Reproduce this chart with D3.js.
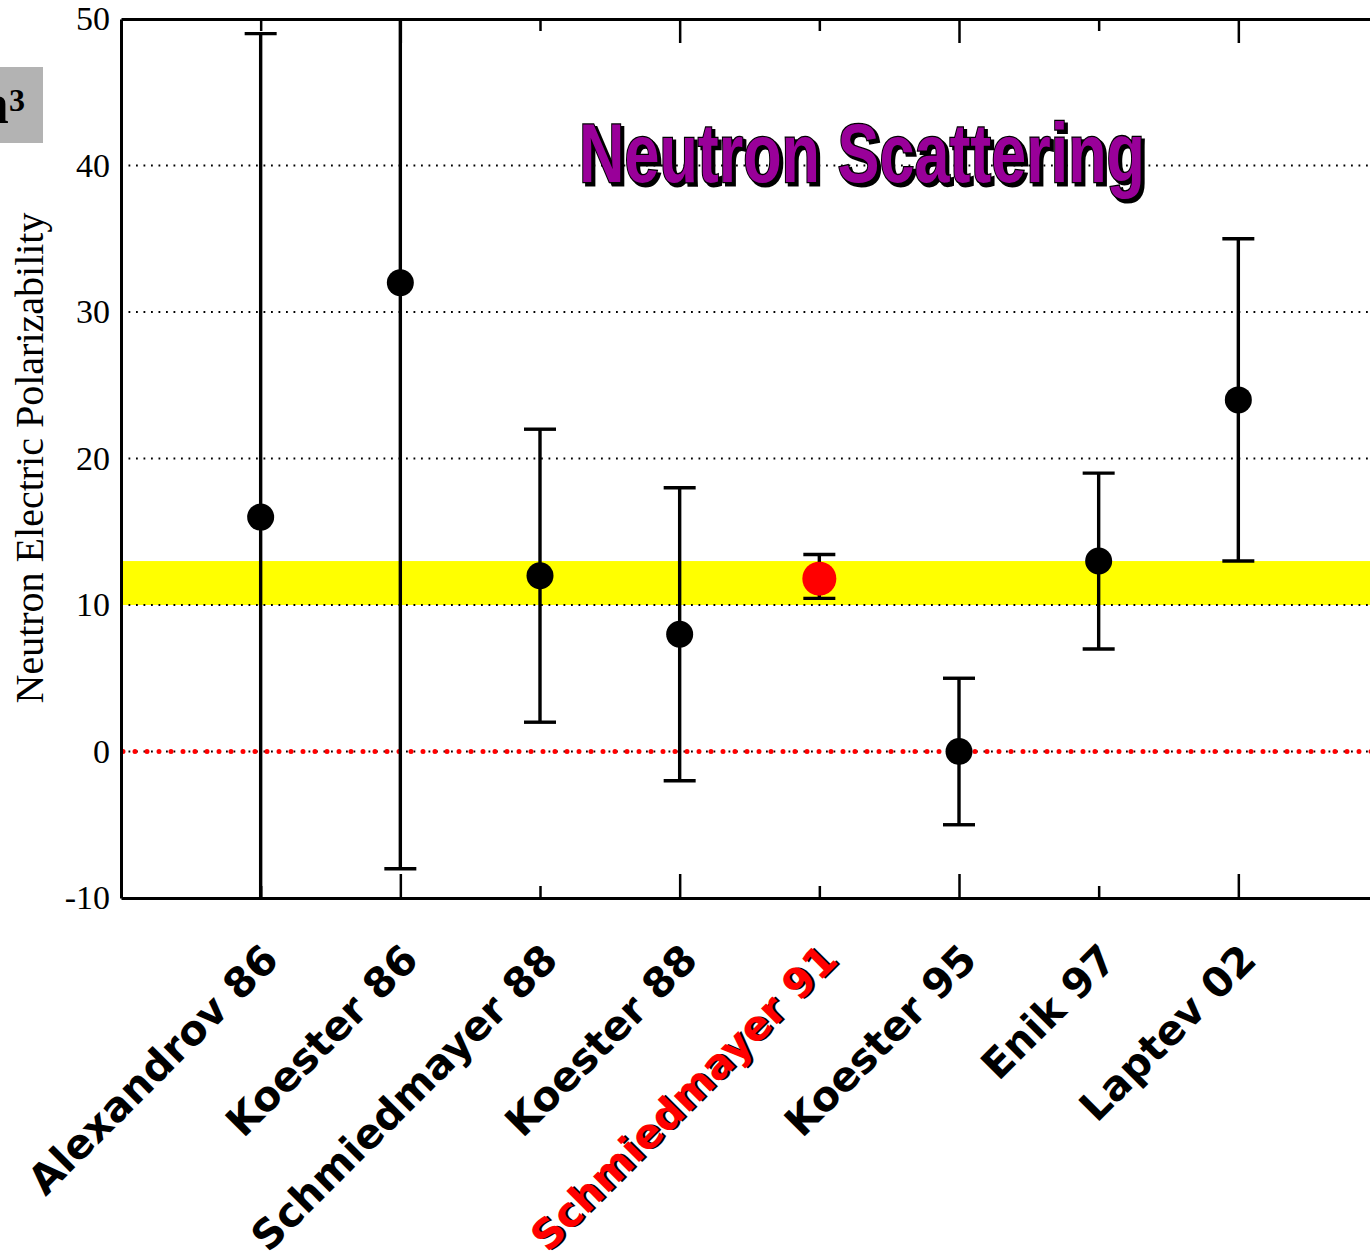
<!DOCTYPE html>
<html>
<head>
<meta charset="utf-8">
<script src="https://cdn.jsdelivr.net/npm/d3@7"></script>
<style>
  html, body { margin: 0; padding: 0; background: #fff; overflow: hidden; }
  .chart svg { display: block; }
</style>
</head>
<body>
<div class="chart"></div>
<script>
// NEUTRON POLARIZABILITY - ERROR BAR CHART
const labels = ['Alexandrov 86', 'Koester 86', 'Schmiedmayer 88', 'Koester 88',
  'Schmiedmayer 91', 'Koester 95', 'Enik 97', 'Laptev 02'];
const values = [16, 32, 12, 8, 11.8, 0, 13, 24];
const upper = [49, 72, 22, 18, 13.45, 5, 19, 35];
const lower = [-17, -8, 2, -2, 10.45, -5, 7, 13];
const highlight = 'Schmiedmayer 91';
const band = [10, 13];
const yTicks = [-10, 0, 10, 20, 30, 40, 50];
const gridValues = [0, 10, 20, 30, 40];

const data = labels.map((name, i) => ({
  name, i, value: values[i], hi: upper[i], lo: lower[i]
}));

const W = 1370, H = 1258;
const plot = { left: 121, top: 19, right: 1378, bottom: 898 };

const svg = d3.select('.chart')
  .append('svg')
    .attr('width', W)
    .attr('height', H);

const xScale = d3.scaleLinear()
  .domain([-1, labels.length])
  .range([plot.left, plot.right]);

const yScale = d3.scaleLinear()
  .domain([-10, 50])
  .range([plot.bottom, plot.top]);

svg.append('defs')
  .append('clipPath')
    .attr('id', 'plot-clip')
  .append('rect')
    .attr('x', plot.left)
    .attr('y', plot.top)
    .attr('width', plot.right - plot.left)
    .attr('height', plot.bottom - plot.top);

const inner = svg.append('g').attr('clip-path', 'url(#plot-clip)');

// yellow band
inner.append('rect')
  .attr('x', plot.left)
  .attr('y', yScale(band[1]))
  .attr('width', plot.right - plot.left)
  .attr('height', yScale(band[0]) - yScale(band[1]))
  .style('fill', '#ffff00');

// dotted grid
inner.selectAll('.grid')
  .data(gridValues)
  .enter()
  .append('line')
    .attr('class', 'grid')
    .attr('x1', plot.left)
    .attr('x2', plot.right)
    .attr('y1', d => yScale(d))
    .attr('y2', d => yScale(d))
    .style('stroke', '#000')
    .style('stroke-width', 1.8)
    .style('stroke-dasharray', '1.8 5.7');

// red zero line
inner.append('line')
  .attr('x1', plot.left + 2)
  .attr('x2', plot.right)
  .attr('y1', yScale(0))
  .attr('y2', yScale(0))
  .style('stroke', '#ff0000')
  .style('stroke-width', 5)
  .style('stroke-linecap', 'round')
  .style('stroke-dasharray', '0 12');

// error bars
const bars = inner.selectAll('.err')
  .data(data)
  .enter()
  .append('g')
    .attr('class', 'err');

bars.append('line')
  .attr('x1', d => xScale(d.i))
  .attr('x2', d => xScale(d.i))
  .attr('y1', d => yScale(d.hi))
  .attr('y2', d => yScale(d.lo))
  .style('stroke', '#000')
  .style('stroke-width', 3.4);

['hi', 'lo'].forEach(k => {
  bars.append('line')
    .attr('x1', d => xScale(d.i) - 16)
    .attr('x2', d => xScale(d.i) + 16)
    .attr('y1', d => yScale(d[k]))
    .attr('y2', d => yScale(d[k]))
    .style('stroke', '#000')
    .style('stroke-width', 3.4);
});

bars.append('circle')
  .attr('cx', d => xScale(d.i))
  .attr('cy', d => yScale(d.value))
  .attr('r', d => d.name === highlight ? 17 : 13.5)
  .style('fill', d => d.name === highlight ? '#ff0000' : '#000');

// axes
const idx = d3.range(labels.length);

const bottomAxis = svg.append('g')
  .attr('transform', `translate(0, ${plot.bottom})`)
  .call(d3.axisTop(xScale).tickValues(idx).tickFormat('').tickSize(24).tickSizeOuter(0));

const topAxis = svg.append('g')
  .attr('transform', `translate(0, ${plot.top})`)
  .call(d3.axisBottom(xScale).tickValues(idx).tickFormat('').tickSize(24).tickSizeOuter(0));

// minor ticks are shorter
bottomAxis.selectAll('.tick line').attr('y2', d => d % 2 === 0 ? -12 : -24);
topAxis.selectAll('.tick line').attr('y2', d => d % 2 === 0 ? 12 : 24);

const leftAxis = svg.append('g')
  .attr('transform', `translate(${plot.left}, 0)`)
  .call(d3.axisLeft(yScale)
    .tickValues(yTicks)
    .tickFormat(d => String(d))
    .tickSize(0)
    .tickPadding(11)
    .tickSizeOuter(0));

[bottomAxis, topAxis, leftAxis].forEach(ax => {
  ax.select('.domain').style('stroke', '#000').style('stroke-width', 3);
  ax.selectAll('.tick line').style('stroke', '#000').style('stroke-width', 2.5);
});

leftAxis.selectAll('.tick text')
  .style('font-family', '"Liberation Serif", "Times New Roman", serif')
  .style('font-size', '34px')
  .style('fill', '#000');

// y axis title
svg.append('text')
  .attr('transform', `translate(43, 458) rotate(-90)`)
  .attr('text-anchor', 'middle')
  .style('font-family', '"Liberation Serif", "Times New Roman", serif')
  .style('font-size', '40px')
  .text('Neutron Electric Polarizability');

// unit box (cut at the left edge)
svg.append('rect')
  .attr('x', 0)
  .attr('y', 67)
  .attr('width', 43)
  .attr('height', 76)
  .style('fill', '#b3b3b3');

svg.append('text')
  .attr('x', 9)
  .attr('y', 123)
  .attr('text-anchor', 'end')
  .style('font-family', '"Liberation Serif", serif')
  .style('font-weight', 'bold')
  .style('font-size', '56px')
  .text('fm');

svg.append('text')
  .attr('x', 9)
  .attr('y', 111)
  .style('font-family', '"Liberation Serif", serif')
  .style('font-weight', 'bold')
  .style('font-size', '32px')
  .text('3');

// x labels
const xLabels = svg.selectAll('.xlabel')
  .data(data)
  .enter()
  .append('g')
    .attr('class', 'xlabel')
    .attr('transform', d => `translate(${xScale(d.i) + 20}, 962) rotate(-45)`);

xLabels.filter(d => d.name === highlight)
  .append('text')
    .attr('x', 2)
    .attr('y', 2)
    .attr('text-anchor', 'end')
    .style('font-family', '"DejaVu Sans", sans-serif')
    .style('font-weight', 'bold')
    .style('font-size', '41px')
    .style('fill', '#000')
    .text(d => d.name);

xLabels.append('text')
  .attr('text-anchor', 'end')
  .style('font-family', '"DejaVu Sans", sans-serif')
  .style('font-weight', 'bold')
  .style('font-size', '41px')
  .style('fill', d => d.name === highlight ? '#ff0000' : '#000')
  .text(d => d.name);

// title with shadow
const title = svg.append('g').attr('transform', 'translate(862, 182)');

title.append('text')
  .attr('x', 3)
  .attr('y', 3)
  .attr('text-anchor', 'middle')
  .attr('textLength', 566)
  .attr('lengthAdjust', 'spacingAndGlyphs')
  .style('font-family', '"Liberation Sans Narrow", "Liberation Sans", Arial, sans-serif')
  .style('font-weight', 'bold')
  .style('font-size', '84px')
  .style('fill', '#000')
  .style('stroke', '#000')
  .style('stroke-width', 3)
  .text('Neutron Scattering');

title.append('text')
  .attr('text-anchor', 'middle')
  .attr('textLength', 566)
  .attr('lengthAdjust', 'spacingAndGlyphs')
  .style('font-family', '"Liberation Sans Narrow", "Liberation Sans", Arial, sans-serif')
  .style('font-weight', 'bold')
  .style('font-size', '84px')
  .style('fill', '#990099')
  .style('stroke', '#000')
  .style('stroke-width', 2.6)
  .style('paint-order', 'stroke')
  .text('Neutron Scattering');
</script>
</body>
</html>
